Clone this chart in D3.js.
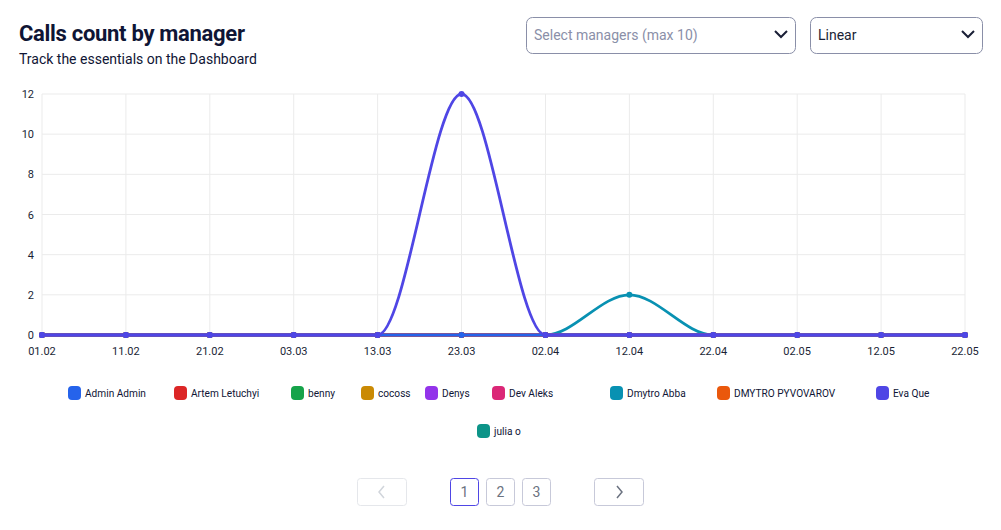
<!DOCTYPE html><html><head><meta charset="utf-8">
<script src="https://cdn.jsdelivr.net/npm/d3@7"></script>
<style>body{margin:0;background:#fff;font-family:Roboto,sans-serif}</style></head><body>
<svg id="c" width="1001" height="530"></svg>
<script>
const dates=["01.02","11.02","21.02","03.03","13.03","23.03","02.04","12.04","22.04","02.05","12.05","22.05"];
const managers=["Admin Admin","Artem Letuchyi","benny","cocoss","Denys","Dev Aleks","Dmytro Abba","DMYTRO PYVOVAROV","Eva Que","julia o"];
const colors=["#2563eb","#dc2626","#16a34a","#ca8a04","#9333ea","#db2777","#0891b2","#ea580c","#4f46e5","#0d9488"];
const zero=[0,0,0,0,0,0,0,0,0,0,0,0];
const dmytroAbba=[0,0,0,0,0,0,0,2,0,0,0,0];
const evaQue=[0,0,0,0,0,12,0,0,0,0,0,0];
const yTicks=[0,2,4,6,8,10,12];
const values={"Dmytro Abba":dmytroAbba,"Eva Que":evaQue};
const svg=d3.select("#c");
svg.append("text").attr("x",19).attr("y",41).text("Calls count by manager").attr("font-size",22).attr("font-weight",700).attr("fill","#0f1535").attr("letter-spacing",-0.3);
svg.append("text").attr("x",19).attr("y",64).text("Track the essentials on the Dashboard").attr("font-size",14).attr("fill","#0f1535");
function sel(x,w,t,c){svg.append("rect").attr("x",x+.5).attr("y",17.5).attr("width",w).attr("height",36).attr("rx",6).attr("fill","#fff").attr("stroke","#8a8fa8");
svg.append("text").attr("x",x+8).attr("y",40).text(t).attr("font-size",14).attr("fill",c);
svg.append("path").attr("d",`M${x+w-20},31 l6,6 l6,-6`).attr("fill","none").attr("stroke","#1a1f36").attr("stroke-width",2);}
sel(526,269,"Select managers (max 10)","#8a8fa8");sel(810,172,"Linear","#1a1f36");
const x=d3.scalePoint().domain(dates).range([42,965]);
const y=d3.scaleLinear().domain([0,12]).range([335,94]);
const g=svg.append("g");
g.selectAll(".v").data(dates).join("line").attr("x1",d=>x(d)).attr("x2",d=>x(d)).attr("y1",94).attr("y2",335).attr("stroke","#ebebeb");
g.selectAll(".h").data(yTicks).join("line").attr("x1",42).attr("x2",965).attr("y1",d=>y(d)).attr("y2",d=>y(d)).attr("stroke","#ebebeb");
g.selectAll(".yt").data(yTicks).join("text").attr("x",34).attr("y",d=>y(d)+4).attr("text-anchor","end").attr("font-size",11).attr("fill","#1a1f36").text(d=>d);
g.selectAll(".xt").data(dates).join("text").attr("x",d=>x(d)).attr("y",355).attr("text-anchor","middle").attr("font-size",11).attr("fill","#1a1f36").text(d=>d);
const line=d3.line().x((d,i)=>x(dates[i])).y(d=>y(d)).curve(d3.curveMonotoneX);
const order=[6,9,1,2,3,4,5,7,0,8];
order.forEach(i=>{const m=managers[i];const v=values[m]||zero;
g.append("path").attr("d",line(v)).attr("fill","none").attr("stroke",colors[i]).attr("stroke-width",2.8);
g.selectAll(null).data(v).join("circle").attr("cx",(d,j)=>x(dates[j])).attr("cy",d=>y(d)).attr("r",3).attr("fill",colors[i]);});
const legX=[68,174,291,361,425,492,610,717,876,477];
managers.forEach((m,i)=>{const px=legX[i],py=i<9?393:431;
svg.append("rect").attr("x",px).attr("y",py-7).attr("width",13).attr("height",14).attr("rx",4).attr("fill",colors[i]);
svg.append("text").attr("transform",`translate(${px+17},${py+4}) scale(0.88,1)`).attr("font-size",11.5).attr("fill","#0f1535").text(m);});
function btn(x,w,t,c,s){svg.append("rect").attr("x",x+.5).attr("y",478.5).attr("width",w).attr("height",27).attr("rx",3).attr("fill","#fff").attr("stroke",s);
svg.append("text").attr("x",x+w/2+.5).attr("y",497).attr("text-anchor","middle").attr("font-size",14).attr("fill",c).text(t);}
btn(357,49,"","#ccc","#e5e7eb");svg.append("path").attr("d","M384,486 l-5,6 l5,6").attr("fill","none").attr("stroke","#d1d5db").attr("stroke-width",1.5);
btn(450,28,"1","#6b7280","#4f46e5");btn(486,28,"2","#6b7280","#c7c9d9");btn(522,28,"3","#6b7280","#c7c9d9");
btn(594,49,"","#ccc","#c7c9d9");svg.append("path").attr("d","M617,486 l5,6 l-5,6").attr("fill","none").attr("stroke","#6b7280").attr("stroke-width",1.5);
</script></body></html>
